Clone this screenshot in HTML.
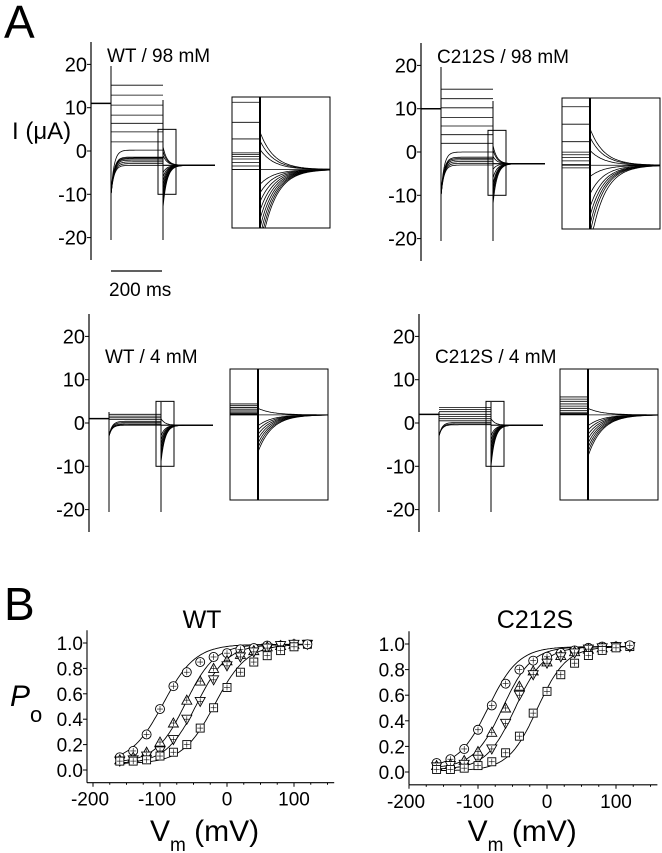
<!DOCTYPE html>
<html><head><meta charset="utf-8"><style>
body{margin:0;background:#fff}
svg{display:block;font-family:"Liberation Sans",Arial,sans-serif}
</style></head><body>
<svg id="fig" width="662" height="853" viewBox="0 0 662 853">
<text x="4" y="38" font-size="46">A</text>
<text x="4" y="620" font-size="46">B</text>
<text x="12" y="139" font-size="24">I (μA)</text>
<line x1="111" y1="271" x2="162" y2="271" stroke="#000" stroke-width="1.2"/>
<text x="109" y="296" font-size="19">200 ms</text>
<g id="tr"></g>
<g id="po"></g>
</svg>
<script>
// ---- Panel A data (μA) ----
const panelLabels = ["WT / 98 mM","C212S / 98 mM","WT / 4 mM","C212S / 4 mM"];
const stepLevelsWT98 = [15.2,12.9,10.6,8.3,6.4,4.4,2.1,0.2,-1.4,-1.6,-1.8,-2.1,-2.5,-2.9,-3.3];
const stepLevelsC98 = [14.5,12.3,10.2,8.0,6.0,4.0,2.0,0.0,-1.2,-1.5,-1.8,-2.2,-2.6,-3.0];
const stepLevelsWT4 = [2.0,1.6,1.2,0.8,0.4,0.1,-0.2,-0.4,-0.5];
const stepLevelsC4 = [3.6,3.1,2.6,2.0,1.5,1.0,0.5,0.1,-0.2,-0.4];
const preLevels = [11,10,1,2];
const tailLevels = [-3.3,-2.7,-0.5,-0.5];
const spikeLevels = [-10,-10,-3,-3];
const tailStartsWT98 = [1,0,-1,-5,-6,-7,-8,-9,-10,-11,-12,-13];
const tailStartsC98 = [1.5,0.5,-1,-4,-6,-7.5,-8.5,-9.5,-10.5,-12];
const tailStartsWT4 = [1,-3,-4,-5,-6,-7,-8,-9];
const tailStartsC4 = [1,-3,-4,-5,-6,-7,-8,-9,-10];
// ---- Panel B data ----
const vm = [-160,-140,-120,-100,-80,-60,-40,-20,0,20,40,60,80,100,120];
const wtCircle = [0.10,0.15,0.28,0.48,0.66,0.77,0.85,0.89,0.92,0.95,0.96,0.98,0.98,0.99,null];
const wtTri = [0.08,0.10,0.14,0.22,0.37,0.55,0.70,0.80,0.86,0.91,0.94,0.97,0.98,0.99,null];
const wtInv = [0.07,0.08,0.11,0.15,0.24,0.40,0.54,0.71,0.82,0.89,0.93,0.96,0.98,0.99,0.99];
const wtSq = [0.07,0.07,0.08,0.11,0.14,0.20,0.33,0.49,0.65,0.77,0.85,0.90,0.94,0.97,0.99];
const cCircle = [0.07,0.10,0.18,0.33,0.52,0.69,0.80,0.87,0.90,0.93,0.95,0.97,0.98,0.98,null];
const cTri = [0.05,0.06,0.09,0.16,0.31,0.50,0.67,0.79,0.86,0.91,0.94,0.96,0.97,0.98,null];
const cInv = [0.04,0.05,0.06,0.10,0.18,0.38,0.60,0.76,0.85,0.90,0.93,0.96,0.97,0.98,0.98];
const cSq = [0.02,0.02,0.03,0.05,0.08,0.15,0.28,0.46,0.63,0.76,0.85,0.91,0.95,0.97,0.98];
// Boltzmann fit params [vhalf, slope, min, max]
const wtFits = [[-95,24,0.06,0.99],[-62,22,0.06,0.99],[-45,23,0.05,0.99],[-18,24,0.05,0.99]];
const cFits = [[-85,22,0.03,0.98],[-64,21,0.03,0.98],[-46,21,0.02,0.98],[-14,21,0.01,0.98]];
const yTicksA = [20,10,0,-10,-20];
const yTicksB = [0,0.2,0.4,0.6,0.8,1.0];
const xTicksB = [-200,-100,0,100];

const NS="http://www.w3.org/2000/svg";
function mk(tag,attrs,parent,txt){const e=document.createElementNS(NS,tag);for(const k in attrs)e.setAttribute(k,attrs[k]);if(txt!=null)e.textContent=txt;parent.appendChild(e);return e;}
const tr=document.getElementById('tr'), po=document.getElementById('po');

function drawTrace(ox,oy,idx,levels,tailStarts){
  const g=mk('g',{},tr);
  
  
  const y=v=>oy+151-v*4.33;
  const ax=ox+91;
  const axl=mk('line',{x1:ax,y1:oy+42,x2:ax,y2:oy+260,stroke:'#000','stroke-width':1.2},g);
  
  
  yTicksA.forEach(t=>{
    mk('line',{x1:ax-4,y1:y(t),x2:ax,y2:y(t),stroke:'#000'},g);
    const tx=mk('text',{x:ax-4,y:y(t)+7,'font-size':20,'text-anchor':'end'},g,String(t));
    
    
  });
  const lab=mk('text',{x:ox+107,y:oy+(idx<2?62:363-272),'font-size':19},g,panelLabels[idx]);
  
  
  const t0=ox+111,t1=ox+163,t2=ox+215;
  const pre=preLevels[idx],tail=tailLevels[idx],sp=spikeLevels[idx];
  mk('line',{x1:ax,y1:y(pre),x2:t0,y2:y(pre),stroke:'#000','stroke-width':1.5},g);
  mk('line',{x1:t0,y1:idx<2?oy+66:oy+140,x2:t0,y2:oy+240,stroke:'#000'},g);
  mk('line',{x1:t1,y1:idx<2?oy+100:oy+130,x2:t1,y2:oy+240,stroke:'#000'},g);
  levels.forEach(L=>{
    let d='';
    for(let x=t0;x<=t1;x+=1){const v=L<0.5?L+(sp-L)*Math.exp(-(x-t0)/3):L;d+=(d?'L':'M')+x+','+y(v).toFixed(1);}
    mk('path',{d:d,fill:'none',stroke:'#000','stroke-width':0.8},g);
  });
  tailStarts.forEach(s=>{
    let d='';
    for(let x=t1;x<=t2;x+=1){const v=tail+(s-tail)*Math.exp(-(x-t1)/4);d+=(d?'L':'M')+x+','+y(v).toFixed(1);}
    mk('path',{d:d,fill:'none',stroke:'#000','stroke-width':0.8},g);
  });
  mk('line',{x1:t1,y1:y(tail),x2:t2,y2:y(tail),stroke:'#000','stroke-width':1.2},g);
  const box=mk('rect',{x:ox+158,y:y(5),width:18,height:y(-10)-y(5),fill:'none',stroke:'#000'},g);
  
  
  const ix0=ox+232,ix1=ox+330,iy0=oy+97,iy1=oy+228,idv=ox+260;
  const top=idx<2?5:10,bot=idx<2?-10:-20;
  const iy=v=>iy0+(top-v)/(top-bot)*(iy1-iy0);
  const ins=mk('g',{},g);
  
  
  mk('rect',{x:ix0,y:iy0,width:ix1-ix0,height:iy1-iy0,fill:'none',stroke:'#000'},ins);
  levels.forEach(L=>{ if(L<top&&L>bot) mk('line',{x1:ix0,y1:iy(L),x2:idv,y2:iy(L),stroke:'#000','stroke-width':0.8},ins);});
  mk('line',{x1:idv,y1:iy0,x2:idv,y2:iy1,stroke:'#000','stroke-width':2},ins);
  mk('line',{x1:ix0,y1:iy(tail),x2:ix1,y2:iy(tail),stroke:'#000','stroke-width':0.8},ins);
  tailStarts.forEach(s=>{
    let d='';
    for(let x=idv;x<=ix1;x+=1){let v=tail+(s-tail)*Math.exp(-(x-idv)/14);v=Math.max(bot,Math.min(top,v));d+=(d?'L':'M')+x+','+iy(v).toFixed(1);}
    mk('path',{d:d,fill:'none',stroke:'#000','stroke-width':0.8},ins);
  });
}
drawTrace(0,0,0,stepLevelsWT98,tailStartsWT98);
drawTrace(330,1,1,stepLevelsC98,tailStartsC98);
drawTrace(-2,272,2,stepLevelsWT4,tailStartsWT4);
drawTrace(328,272,3,stepLevelsC4,tailStartsC4);

function marker(g,shape,cx,cy){
  const s={fill:'#fff',stroke:'#000','stroke-width':0.9};
  let e;
  if(shape==='c') e=mk('circle',Object.assign({cx:cx,cy:cy,r:4.5},s),g);
  else if(shape==='t') e=mk('polygon',Object.assign({points:`${cx},${cy-5} ${cx-5},${cy+4} ${cx+5},${cy+4}`},s),g);
  else if(shape==='v') e=mk('polygon',Object.assign({points:`${cx},${cy+5} ${cx-5},${cy-4} ${cx+5},${cy-4}`},s),g);
  else e=mk('rect',Object.assign({x:cx-4,y:cy-4,width:8,height:8},s),g);
  mk('line',{x1:cx-3,y1:cy,x2:cx+3,y2:cy,stroke:'#000','stroke-width':0.6},g);
  mk('line',{x1:cx,y1:cy-3,x2:cx,y2:cy+3,stroke:'#000','stroke-width':0.6},g);
  
  
}
function drawPo(ax,x0,pxmv,y0,pyu,title,titleX,series,fits){
  const g=mk('g',{},po);
  
  
  const X=v=>x0+v*pxmv, Y=p=>y0-p*pyu;
  const xa=Y(-0.1);
  const xl=mk('line',{x1:ax,y1:xa,x2:X(160),y2:xa,stroke:'#000','stroke-width':1.1},g);
  
  
  const yl=mk('line',{x1:ax,y1:Y(1.1),x2:ax,y2:xa,stroke:'#000','stroke-width':1.1},g);
  
  
  for(let v=-200;v<=150;v+=25){const big=v%100===0;mk('line',{x1:X(v),y1:xa,x2:X(v),y2:xa+(big?4:2),stroke:'#000'},g);}
  xTicksB.forEach(v=>{const t=mk('text',{x:X(v)-(v<0?3:0),y:xa+23,'font-size':19,'text-anchor':'middle'},g,String(v));
    
    });
  yTicksB.forEach(p=>{mk('line',{x1:ax-4,y1:Y(p),x2:ax,y2:Y(p),stroke:'#000'},g);
    const t=mk('text',{x:ax-4,y:Y(p)+7,'font-size':19,'text-anchor':'end'},g,p.toFixed(1));
    
    });
  const tt=mk('text',{x:titleX,y:628,'font-size':25,'text-anchor':'middle'},g,title);
  
  
  const xt=mk('text',{x:X(-115),y:841,'font-size':30},g);
  
  
  mk('tspan',{},xt,'V');
  mk('tspan',{'font-size':19,dy:10},xt,'m');
  mk('tspan',{dy:-10},xt,' (mV)');
  fits.forEach(f=>{
    let d='';
    for(let v=-160;v<=120;v+=2){const p=f[2]+(f[3]-f[2])/(1+Math.exp(-(v-f[0])/f[1]));d+=(d?'L':'M')+X(v).toFixed(1)+','+Y(p).toFixed(1);}
    const c=mk('path',{d:d,fill:'none',stroke:'#000','stroke-width':0.9},g);
    
    
  });
  const shapes=['c','t','v','s'];
  series.forEach((s,i)=>s.forEach((p,j)=>{ if(p!=null) marker(g,shapes[i],X(vm[j]),Y(p)); }));
  marker(g,'c',X(120),Y(0.99));
}
drawPo(87,227,0.67,770,127,'WT',202,[wtCircle,wtTri,wtInv,wtSq],wtFits);
drawPo(409,547,0.69,772,128,'C212S',535,[cCircle,cTri,cInv,cSq],cFits);
const po1=document.createElementNS(NS,'text');
po1.setAttribute('x','10');po1.setAttribute('y','706');po1.setAttribute('font-size','30');po1.setAttribute('font-style','italic');


po1.textContent='P';
po.appendChild(po1);
const po2=document.createElementNS(NS,'text');
po2.setAttribute('x','30');po2.setAttribute('y','722');po2.setAttribute('font-size','22');


po2.textContent='o';
po.appendChild(po2);
</script>
</body></html>
